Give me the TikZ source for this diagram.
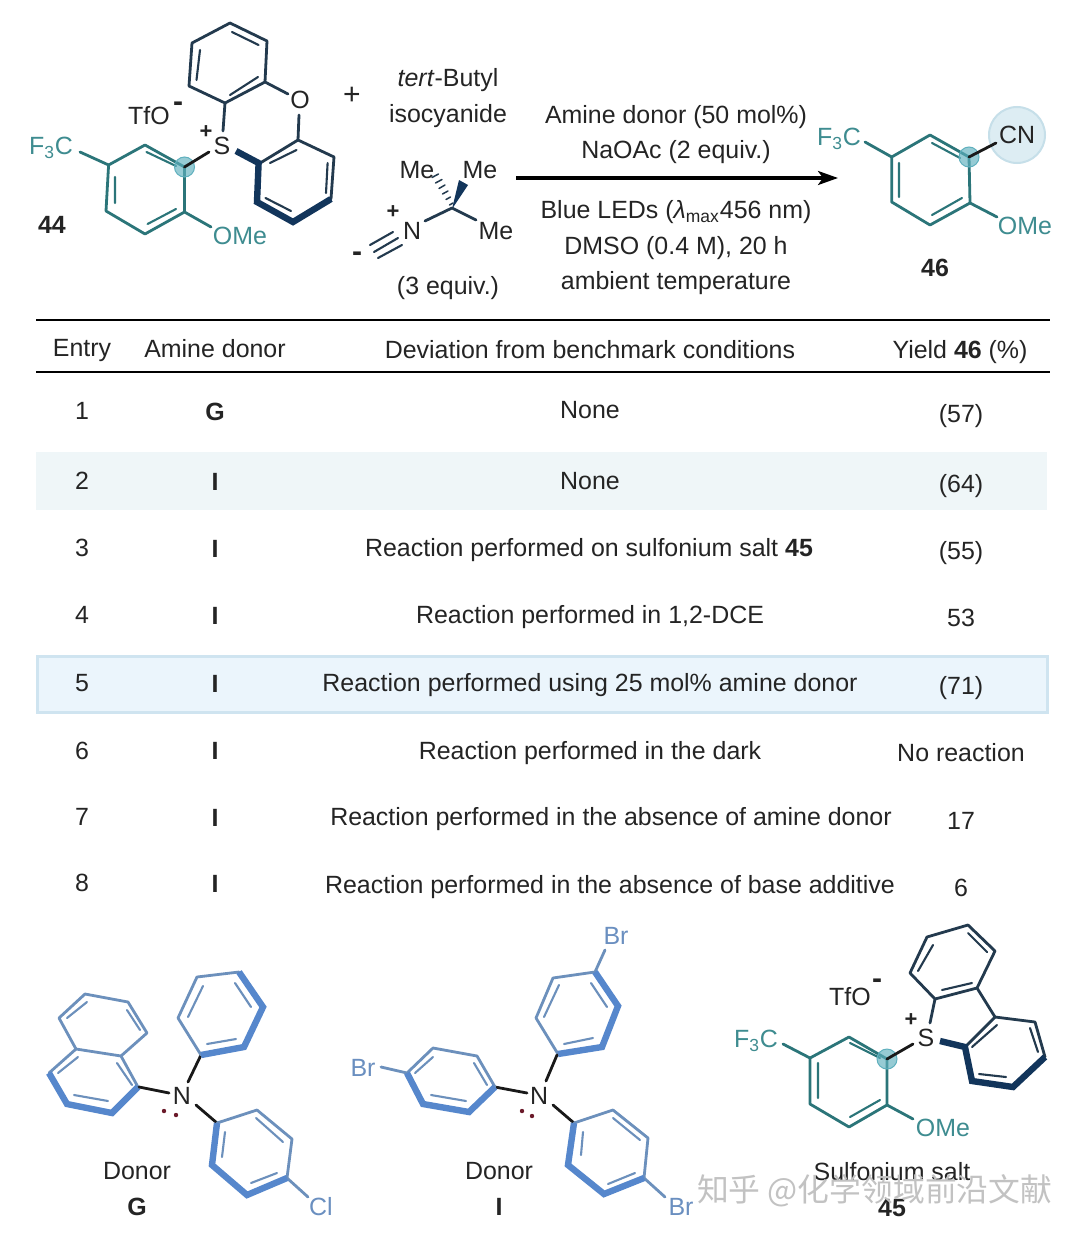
\documentclass[tikz,border=0pt]{standalone}
\usepackage{fontspec}
\usetikzlibrary{arrows.meta}
\setmainfont{Liberation Sans}
\newfontfamily\cjkwm{Noto Sans CJK SC}
\definecolor{tealb}{HTML}{2B7579}
\definecolor{teall}{HTML}{3E8C90}
\definecolor{navyb}{HTML}{12355B}
\definecolor{darkb}{HTML}{233A4E}
\definecolor{bluet}{HTML}{6C90BC}
\definecolor{blueT}{HTML}{5687CC}
\definecolor{bluel}{HTML}{6A8FC0}
\definecolor{ink}{HTML}{242424}
\definecolor{bandA}{HTML}{EFF6F8}
\definecolor{bandB}{HTML}{EBF5FC}
\definecolor{bandE}{HTML}{CFE4F0}
\definecolor{pairdot}{HTML}{6B1A2A}
\definecolor{hitA}{HTML}{5FB0BE}
\definecolor{haloC}{HTML}{DDEDF3}
\definecolor{haloE}{HTML}{C6DFE9}
\tikzset{
  every node/.style={inner sep=0pt,outer sep=0pt,text=ink,font=\fontsize{12.47}{14}\selectfont,text height=11pt,text depth=2.1pt},
  bd/.style={line width=1.4pt,line join=round,line cap=round},
  inr/.style={line width=1.05pt,line cap=round},
  tealbd/.style={bd,draw=tealb},
  tealin/.style={inr,draw=tealb},
  navybd/.style={bd,draw=darkb},
  navyin/.style={inr,draw=darkb},
  navythick/.style={line width=3.2pt,line join=miter,line cap=butt,draw=navyb},
  bluebd/.style={bd,draw=bluet},
  bluein/.style={inr,draw=bluet},
  bluethick/.style={line width=3.2pt,line join=miter,line cap=butt,draw=blueT},
  blk/.style={bd,draw=black!90},
  teallab/.style={text=teall},
  bluelab/.style={text=bluel},
  bold/.style={font=\fontsize{12.47}{14}\selectfont\bfseries},
  hit/.style={fill=hitA,fill opacity=0.65,draw=hitA,line width=0.5pt},
  tbrule/.style={line width=1.25pt,draw=black},
  charge/.style={font=\fontsize{11}{12}\selectfont\bfseries,text height=,text depth=},
  lonepair/.style={fill=pairdot,draw=none}
}
\begin{document}
\begin{tikzpicture}[x=0.5pt,y=-0.5pt]
\useasboundingbox (0,0) rectangle (1080,1236);
\fill[white] (0,0) rectangle (1080,1236);

% ---------- Salt 44
\draw[tealbd] (108.6,165)--(145,145)--(184.5,167)--(184.5,212)--(145,234)--(106,211)--cycle;
\draw[tealin] (115,177)--(115,203) (147.6,224)--(176,209) (146.5,152)--(176,166);
\draw[tealbd] (80,152)--(108.6,165) (184.5,212)--(211,227);
\node[teallab] (s44cf) at (51,146) {F\textsubscript{3}C};
\node[teallab] (s44ome) at (240,236) {OMe};
\node (s44tfo) at (149,116) {TfO};
\node[charge] (s44minus) at (178,107) {\fontsize{15}{15}\selectfont -};
\node[charge] (s44plus) at (206,132) {+};
\node (s44s) at (222,146) {S};
\draw[hit] (184.5,167) circle (10);
\draw[blk] (184.5,167)--(209,152);
\draw[navybd] (258.6,164)--(298,140)--(334,157)--(331,199);
\draw[navythick] (236,151)--(258.6,163)--(257,202)--(293,222)--(331,199);
\draw[navyin] (270,163)--(296.5,150) (326,193)--(327.6,163) (265.5,198)--(291,211);
\node (s44o) at (300,100) {O};
\draw[navybd] (298,140)--(299,115) (288,94)--(265,82)--(267,41)--(230,23)--(192,43)--(189,86)--(225,103)--(265,82) (225,103)--(223,131);
\draw[navyin] (196.5,80)--(200,50) (232,32)--(258.6,45) (230,95)--(258,77);
\node[bold] (lab44) at (52,225) {44};
\node[font=\fontsize{15}{16}\selectfont] (plus) at (352,96) {+};
\node (tbu) at (448,78) {\textit{tert}-Butyl};
\node (isoc) at (448,114) {isocyanide};

% ---------- isocyanide
\node (me1) at (417,170) {Me};
\node (me2) at (480,170) {Me};
\node (me3) at (496,231) {Me};
\node (iN) at (412,231) {N};
\node[charge] (iplus) at (393,212) {+};
\node[charge] (iminus) at (357,257) {\fontsize{15}{15}\selectfont -};
\draw[line width=0.75pt,draw=darkb,line cap=round]
  (449.5,205)--(453,203) (446,199.5)--(450.5,197) (442.5,194)--(448,191)
  (439,188.5)--(445,185) (435.5,183)--(442,179.5) (432,177.5)--(438.5,174);
\fill[navyb] (452,209)--(459,180)--(468,185)--cycle;
\draw[navybd] (452,208)--(476,220) (452,208)--(425,221);
\draw[navyin] (370,245)--(393,232) (374,252)--(398,238) (378,258)--(402,245);
\node (eq3) at (448,286) {(3 equiv.)};

% ---------- conditions and arrow
\node (c1) at (676,115) {Amine donor (50 mol\%)};
\node (c2) at (676,150) {NaOAc (2 equiv.)};
\coordinate (arA) at (516,178);
\coordinate (arB) at (838,178);
\draw[line width=1.6pt,draw=black,-{Stealth[length=10pt,width=7pt,inset=2.5pt]}] (arA)--(arB);
\node (c3) at (676,210) {Blue LEDs (\textit{λ}\textsubscript{max}456 nm)};
\node (c4) at (676,246) {DMSO (0.4 M), 20 h};
\node (c5) at (676,281) {ambient temperature};

% ---------- product 46
\draw[fill=haloC,draw=haloE,line width=1pt] (1017,135) circle (28);
\draw[tealbd] (891.7,157)--(930,135)--(969,157)--(970,203)--(930,225)--(891.7,202)--cycle;
\draw[tealin] (899,163)--(899,197) (932,215)--(962,198) (932,143)--(960,158);
\draw[tealbd] (865,142)--(891.7,157) (970,203)--(997,217);
\draw[hit] (969,157) circle (10);
\draw[blk] (969,157)--(996,143);
\node (pcn) at (1017,135) {CN};
\node[teallab] (pcf) at (839,137) {F\textsubscript{3}C};
\node[teallab] (pome) at (1025,226) {OMe};
\node[bold] (lab46) at (935,268) {46};

% ---------- table
\draw[tbrule] (36,320)--(1050,320);
\draw[tbrule] (36,372)--(1050,372);
\node (h1) at (82,348) {Entry};
\node (h2) at (215,349) {Amine donor};
\node (h3) at (590,350) {Deviation from benchmark conditions};
\node (h4) at (960,350) {Yield \textbf{46} (\%)};
\fill[bandA] (36,452) rectangle (1047,510);
\draw[fill=bandB,draw=bandE,line width=1.5pt] (37,656) rectangle (1047,712);

\node (e1) at (82,411) {1};\node[bold] (d1) at (215,412) {G};\node (t1) at (590,410) {None};\node (y1) at (961,414) {(57)};
\node (e2) at (82,481) {2};\node[bold] (d2) at (215,482) {I};\node (t2) at (590,481) {None};\node (y2) at (961,484) {(64)};
\node (e3) at (82,548) {3};\node[bold] (d3) at (215,549) {I};\node (t3) at (589,548) {Reaction performed on sulfonium salt \textbf{45}};\node (y3) at (961,551) {(55)};
\node (e4) at (82,615) {4};\node[bold] (d4) at (215,616) {I};\node (t4) at (590,615) {Reaction performed in 1,2-DCE};\node (y4) at (961,618) {53};
\node (e5) at (82,683) {5};\node[bold] (d5) at (215,684) {I};\node (t5) at (590,683) {Reaction performed using 25 mol\% amine donor};\node (y5) at (961,686) {(71)};
\node (e6) at (82,751) {6};\node[bold] (d6) at (215,751) {I};\node (t6) at (590,751) {Reaction performed in the dark};\node (y6) at (961,753) {No reaction};
\node (e7) at (82,817) {7};\node[bold] (d7) at (215,818) {I};\node (t7) at (611,817) {Reaction performed in the absence of amine donor};\node (y7) at (961,821) {17};
\node (e8) at (82,883) {8};\node[bold] (d8) at (215,884) {I};\node (t8) at (610,885) {Reaction performed in the absence of base additive};\node (y8) at (961,888) {6};

% ---------- Donor G
\draw[bluebd] (49,1073)--(76,1049)--(121,1056)--(138,1087);
\draw[bluebd] (76,1049)--(59,1018)--(85,994)--(128,1002)--(147,1033)--(121,1056);
\draw[bluethick] (49,1073)--(67,1104)--(112,1113)--(138,1087);
\draw[bluein] (58,1073)--(78,1057) (74,1095)--(108,1101) (117,1063)--(132,1085) (67,1018)--(87,1002) (127,1010)--(140,1030);
\node (gN) at (182,1096) {N};
\draw[blk] (139,1087)--(169,1093) (201,1055)--(188,1082) (196,1105)--(217,1123);
\draw[bluebd] (201,1055)--(178,1018)--(197,977)--(239,972);
\draw[bluethick] (239,972)--(263,1007)--(244,1047)--(201,1055);
\draw[bluein] (188,1017)--(203,986) (235,983)--(251,1007) (207,1044)--(236,1039);
\draw[bluebd] (217,1123)--(257,1110)--(292,1139)--(287,1178)--(308,1197);
\draw[bluethick] (217,1123)--(212,1165)--(247,1195)--(287,1178);
\draw[bluein] (225,1132)--(222,1157) (256,1118)--(283,1142) (251,1183)--(277,1173);
\node[bluelab] (gCl) at (321,1207) {Cl};
\fill[lonepair] (164,1111) circle (2.2) (176,1115) circle (2.2);
\node (gD) at (137,1171) {Donor};
\node[bold] (gG) at (137,1207) {G};

% ---------- Donor I
\node[bluelab] (iBr1) at (616,936) {Br};
\draw[bluebd] (605,950)--(595,972)--(553,978)--(536,1018)--(558,1054);
\draw[bluethick] (595,972)--(618,1006)--(602,1047)--(558,1054);
\draw[bluein] (544,1017)--(559,985) (591,983)--(607,1007) (564,1044)--(593,1038);
\node (iNN) at (539,1096) {N};
\draw[blk] (557,1055)--(546,1081) (495,1087)--(527,1093) (553,1105)--(574,1123);
\draw[bluebd] (407,1073)--(433,1048)--(477,1056)--(495,1087) (381,1067)--(407,1073);
\draw[bluethick] (407,1073)--(423,1104)--(469,1112)--(495,1087);
\draw[bluein] (415,1073)--(433,1057) (431,1095)--(466,1101) (474,1063)--(487,1085);
\node[bluelab] (iBr2) at (363,1068) {Br};
\draw[bluebd] (574,1123)--(613,1110)--(648,1138)--(644,1178)--(665,1197);
\draw[bluethick] (574,1123)--(568,1165)--(604,1194)--(644,1178);
\draw[bluein] (583,1132)--(581,1155) (613,1118)--(640,1140) (608,1184)--(635,1173);
\node[bluelab] (iBr3) at (681,1207) {Br};
\fill[lonepair] (522,1111) circle (2.2) (532,1116) circle (2.2);
\node (iD) at (499,1171) {Donor};
\node[bold] (iI) at (499,1207) {I};

% ---------- Sulfonium salt 45
\draw[tealbd] (810,1058)--(849,1037)--(887,1059)--(887,1105)--(849,1127)--(810,1104)--cycle;
\draw[tealin] (818,1063)--(818,1098) (850,1117)--(880,1100) (850,1043)--(880,1058);
\draw[tealbd] (783,1044)--(810,1058) (887,1105)--(913,1119);
\node[teallab] (scf) at (756,1039) {F\textsubscript{3}C};
\node[teallab] (some) at (943,1128) {OMe};
\draw[hit] (887,1059) circle (10);
\draw[blk] (887,1059)--(913,1044);
\node (ss) at (926,1038) {S};
\node[charge] (splus) at (911,1020) {+};
\node (stfo) at (850,997) {TfO};
\node[charge] (sminus) at (877,984) {\fontsize{15}{15}\selectfont -};
\draw[navybd] (965,1047)--(995,1017)--(1035,1022)--(1045,1057);
\draw[navythick] (940,1041)--(965,1047)--(972,1081)--(1013,1087)--(1045,1057);
\draw[navyin] (972,1047)--(997,1025) (979,1074)--(1006,1077) (1038,1052)--(1030,1028);
\draw[navybd] (995,1017)--(977,988)--(935,999)--(910,973)--(927,937)--(968,925)--(995,951)--(977,988) (935,999)--(930,1023);
\draw[navyin] (918,971)--(933,945) (968,933)--(987,952) (942,990)--(972,983);
\node (sname) at (892,1172) {Sulfonium salt};
\node[bold] (s45) at (892,1208) {45};

% ---------- watermark
\node[font=\cjkwm\fontsize{15.9}{17}\selectfont,text=black!24,anchor=west] (wm) at (697,1193) {知乎 @化学领域前沿文献};
\end{tikzpicture}
\end{document}
